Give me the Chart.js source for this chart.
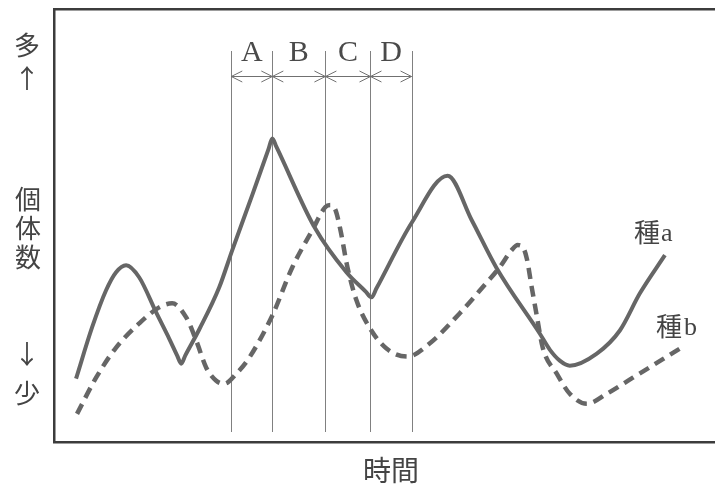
<!DOCTYPE html>
<html>
<head>
<meta charset="utf-8">
<script src="https://cdn.jsdelivr.net/npm/chart.js@4"></script>
<style>
  html, body { margin: 0; padding: 0; background: #fff; }
  #wrap { width: 715px; height: 486px; }
</style>
</head>
<body>
<div id="wrap"><canvas id="c" width="715" height="486"></canvas></div>
<script>
// values (time, abundance in picture units)
const timeA = [22, 38, 52, 62, 72, 85, 102, 115, 123, 127, 131, 145, 165, 178, 198, 214, 218, 222, 260, 292, 311, 317, 322, 357, 393, 417, 442, 485, 495, 505, 515, 542, 565, 585, 610]
const countA = [63, 114, 151, 169, 176, 164, 129, 103, 86, 78, 86, 112, 154, 191, 246, 291, 302, 294, 214, 169, 150, 144, 153, 218, 265, 221, 173, 108, 92, 81, 76, 88, 111, 148, 186]

const timeB = [23, 42, 62, 85, 105, 118, 132, 142, 152, 162, 170, 182, 195, 218, 238, 258, 271, 276, 281, 286, 293, 302, 315, 332, 353, 375, 405, 428, 445, 457, 463, 468, 472, 477, 482, 488, 502, 515, 532, 552, 578, 625]
const countB = [28, 64, 94, 118, 134, 138, 124, 101, 74, 61, 58, 68, 84, 126, 174, 211, 234, 236, 231, 211, 174, 141, 114, 93, 85, 98, 128, 154, 174, 191, 196, 194, 183, 154, 126, 94, 68, 48, 38, 48, 64, 93]

const periodBounds = [177, 218, 271, 316, 357]
const periodLabels = ['A', 'B', 'C', 'D']

const pts = (xs, ys) => xs.map((x, i) => ({x, y: ys[i]}))

const ink = '#3c3c3c'
const curve = '#666666'
const cjk = '"Noto Sans CJK JP", "Noto Sans CJK SC", sans-serif'

const decor = {
	id: 'decor',
	beforeDatasetsDraw: a => {
		const ctx = a.ctx
		const x = a.scales.x
		const top = a.chartArea.top
		ctx.save()
		// guide lines
		ctx.strokeStyle = '#808080'
		ctx.lineWidth = 1
		periodBounds.forEach(b => {
			const px = Math.round(x.getPixelForValue(b)) + 0.5
			ctx.beginPath()
			ctx.moveTo(px, top + 42)
			ctx.lineTo(px, top + 423)
			ctx.stroke()
		})
		// interval arrows
		const ay = top + 67.5
		ctx.strokeStyle = '#707070'
		periodLabels.forEach((l, i) => {
			const x0 = x.getPixelForValue(periodBounds[i])
			const x1 = x.getPixelForValue(periodBounds[i + 1])
			ctx.beginPath()
			ctx.moveTo(x0, ay); ctx.lineTo(x1, ay)
			ctx.moveTo(x0 + 11, ay - 5.5); ctx.lineTo(x0, ay); ctx.lineTo(x0 + 11, ay + 5.5)
			ctx.moveTo(x1 - 11, ay - 5.5); ctx.lineTo(x1, ay); ctx.lineTo(x1 - 11, ay + 5.5)
			ctx.stroke()
			ctx.fillStyle = '#4a4a4a'
			ctx.font = '30px "Liberation Serif", serif'
			ctx.textAlign = 'center'
			ctx.textBaseline = 'alphabetic'
			ctx.fillText(l, (x0 + x1) / 2, top + 52)
		})
		ctx.restore()
	},
	afterDraw: a => {
		const ctx = a.ctx
		ctx.save()
		ctx.fillStyle = '#444'
		ctx.textAlign = 'center'
		ctx.textBaseline = 'middle'
		ctx.font = '26px ' + cjk
		ctx.fillText('多', 27, 45)
		ctx.fillText('↑', 27, 78)
		;['個', '体', '数'].forEach((c, i) => ctx.fillText(c, 28, 199 + i * 29))
		ctx.fillText('↓', 27, 354)
		ctx.fillText('少', 27, 393)
		ctx.font = '28px ' + cjk
		ctx.fillText('時間', 391, 470)
		// series labels
		ctx.textAlign = 'left'
		ctx.font = '26px ' + cjk
		ctx.fillText('種', 634, 232)
		ctx.fillText('種', 656, 326)
		ctx.font = '26px "Liberation Serif", serif'
		ctx.fillText('a', 661, 234)
		ctx.fillText('b', 684, 328)
		ctx.restore()
	}
}

new Chart(document.getElementById('c'), {
	type: 'line',
	plugins: [decor],
	data: {
		datasets: [{
			label: '種a',
			data: pts(timeA, countA),
			borderColor: curve,
			borderWidth: 4,
			pointRadius: 0,
			cubicInterpolationMode: 'monotone',
			borderCapStyle: 'butt',
			borderJoinStyle: 'round',
		}, {
			label: '種b',
			data: pts(timeB, countB),
			borderColor: curve,
			borderWidth: 4.5,
			borderDash: [11, 7],
			pointRadius: 0,
			cubicInterpolationMode: 'monotone',
			borderJoinStyle: 'round',
		}]
	},
	options: {
		responsive: false,
		animation: false,
		layout: { padding: { left: 54, top: 9, right: 0, bottom: 44 } },
		plugins: {
			legend: { display: false },
			tooltip: { enabled: false },
		},
		scales: {
			x: {
				type: 'linear', min: 0, max: 660,
				grid: { display: false, drawTicks: false },
				ticks: { display: false },
				border: { display: true, color: ink, width: 2.5 },
			},
			x2: {
				type: 'linear', position: 'top', min: 0, max: 660,
				grid: { display: false, drawTicks: false },
				ticks: { display: false },
				border: { display: true, color: ink, width: 2.5 },
			},
			y: {
				min: 0, max: 431,
				grid: { display: false, drawTicks: false },
				ticks: { display: false },
				border: { display: true, color: ink, width: 2.5 },
			},
		},
	}
})
</script>
</body>
</html>
